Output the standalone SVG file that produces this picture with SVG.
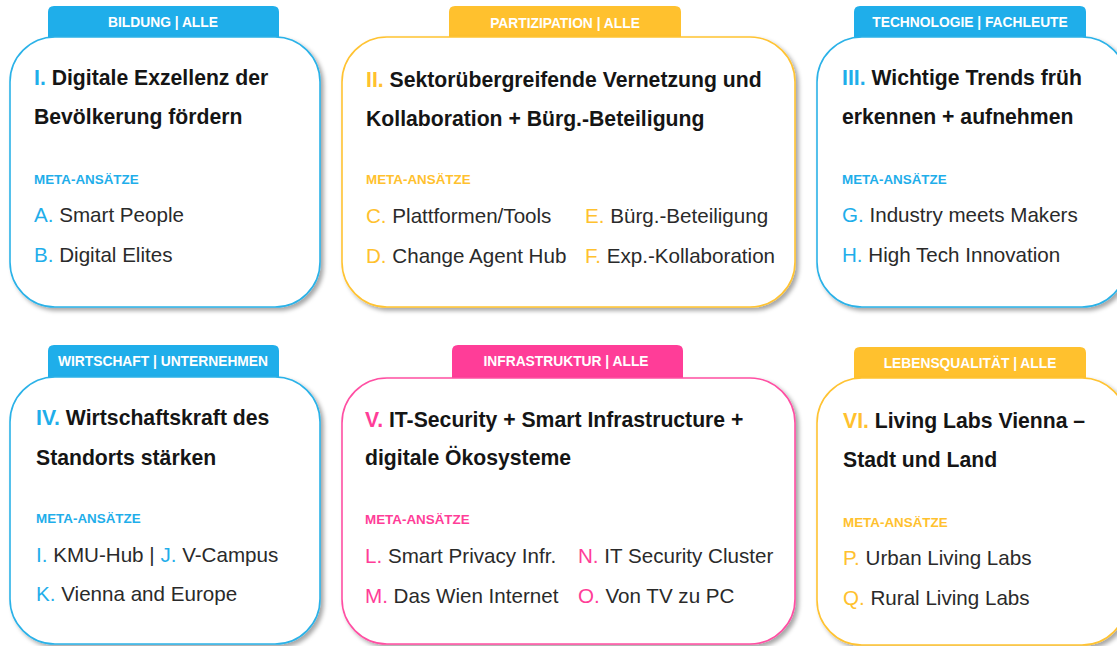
<svg xmlns="http://www.w3.org/2000/svg" width="1117" height="646" viewBox="0 0 1117 646">
<style>
.card{fill:#fff;stroke-width:1.6;filter:url(#sh)}
.b{stroke:#2BB2E8}.y{stroke:#FFC332}.p{stroke:#FF4FA3}
.tb{fill:#1FAEEA}.ty{fill:#FFC12E}.tp{fill:#FF3D98}
.tab{font-family:"Liberation Sans",Arial,sans-serif;font-weight:bold;font-size:13.8px;fill:#fff;text-anchor:middle}
.ti{font-family:"Liberation Sans",Arial,sans-serif;font-weight:bold;font-size:21.2px;fill:#151515}
.me{font-family:"Liberation Sans",Arial,sans-serif;font-weight:bold;font-size:13.4px}
.it{font-family:"Liberation Sans",Arial,sans-serif;font-size:20.6px;fill:#2a2a2a}
.cb{fill:#1FAEEA}.cy{fill:#FFC12E}.cp{fill:#FF3D98}
</style>
<defs>
<filter id="sh" x="-5%" y="-5%" width="115%" height="115%">
<feDropShadow dx="3" dy="3" stdDeviation="2" flood-color="#000" flood-opacity="0.35"/>
</filter>
</defs>
<rect width="1117" height="646" fill="#fff"/>

<g id="node-bildung">
<path class="tb" d="M48,40 L48,12 Q48,6 54,6 L273,6 Q279,6 279,12 L279,40 Z"/>
<rect class="card b" x="10" y="37" width="310" height="270" rx="45"/>
<text class="tab" x="163" y="27">BILDUNG | ALLE</text>
<text class="ti" x="34" y="85"><tspan class="cb">I.</tspan> Digitale Exzellenz der</text>
<text class="ti" x="34" y="124">Bevölkerung fördern</text>
<text class="me cb" x="34" y="184">META-ANSÄTZE</text>
<text class="it" x="34" y="222"><tspan class="cb">A.</tspan> Smart People</text>
<text class="it" x="34" y="262"><tspan class="cb">B.</tspan> Digital Elites</text>
</g>

<g id="node-partizipation">
<path class="ty" d="M449,40 L449,12 Q449,6 455,6 L675,6 Q681,6 681,12 L681,40 Z"/>
<rect class="card y" x="342" y="37" width="453" height="270" rx="45"/>
<text class="tab" x="565" y="28">PARTIZIPATION | ALLE</text>
<text class="ti" x="366" y="87"><tspan class="cy">II.</tspan> Sektorübergreifende Vernetzung und</text>
<text class="ti" x="366" y="126">Kollaboration + Bürg.-Beteiligung</text>
<text class="me cy" x="366" y="184">META-ANSÄTZE</text>
<text class="it" x="366" y="223"><tspan class="cy">C.</tspan> Plattformen/Tools</text>
<text class="it" x="366" y="263"><tspan class="cy">D.</tspan> Change Agent Hub</text>
<text class="it" x="585" y="223"><tspan class="cy">E.</tspan> Bürg.-Beteiligung</text>
<text class="it" x="585" y="263"><tspan class="cy">F.</tspan> Exp.-Kollaboration</text>
</g>

<g id="node-technologie">
<path class="tb" d="M854,40 L854,12 Q854,6 860,6 L1080,6 Q1086,6 1086,12 L1086,40 Z"/>
<rect class="card b" x="817" y="37" width="310" height="270" rx="45"/>
<text class="tab" x="970" y="27">TECHNOLOGIE | FACHLEUTE</text>
<text class="ti" x="842" y="85"><tspan class="cb">III.</tspan> Wichtige Trends früh</text>
<text class="ti" x="842" y="124">erkennen + aufnehmen</text>
<text class="me cb" x="842" y="184">META-ANSÄTZE</text>
<text class="it" x="842" y="222"><tspan class="cb">G.</tspan> Industry meets Makers</text>
<text class="it" x="842" y="262"><tspan class="cb">H.</tspan> High Tech Innovation</text>
</g>

<g id="node-wirtschaft">
<path class="tb" d="M48,380 L48,351 Q48,345 54,345 L273,345 Q279,345 279,351 L279,380 Z"/>
<rect class="card b" x="10" y="377" width="310" height="267" rx="45"/>
<text class="tab" x="163" y="366">WIRTSCHAFT | UNTERNEHMEN</text>
<text class="ti" x="36" y="425"><tspan class="cb">IV.</tspan> Wirtschaftskraft des</text>
<text class="ti" x="36" y="465">Standorts stärken</text>
<text class="me cb" x="36" y="523">META-ANSÄTZE</text>
<text class="it" x="36" y="562"><tspan class="cb">I.</tspan> KMU-Hub | <tspan class="cb">J.</tspan> V-Campus</text>
<text class="it" x="36" y="601"><tspan class="cb">K.</tspan> Vienna and Europe</text>
</g>

<g id="node-infrastruktur">
<path class="tp" d="M452,380 L452,351 Q452,345 458,345 L677,345 Q683,345 683,351 L683,380 Z"/>
<rect class="card p" x="342" y="378" width="453" height="266" rx="45"/>
<text class="tab" x="566" y="366">INFRASTRUKTUR | ALLE</text>
<text class="ti" x="365" y="427"><tspan class="cp">V.</tspan> IT-Security + Smart Infrastructure +</text>
<text class="ti" x="365" y="465">digitale Ökosysteme</text>
<text class="me cp" x="365" y="524">META-ANSÄTZE</text>
<text class="it" x="365" y="563"><tspan class="cp">L.</tspan> Smart Privacy Infr.</text>
<text class="it" x="365" y="603"><tspan class="cp">M.</tspan> Das Wien Internet</text>
<text class="it" x="578" y="563"><tspan class="cp">N.</tspan> IT Security Cluster</text>
<text class="it" x="578" y="603"><tspan class="cp">O.</tspan> Von TV zu PC</text>
</g>

<g id="node-lebensqualitaet">
<path class="ty" d="M854,381 L854,353 Q854,347 860,347 L1080,347 Q1086,347 1086,353 L1086,381 Z"/>
<rect class="card y" x="817" y="378" width="310" height="267" rx="45"/>
<text class="tab" x="970" y="368">LEBENSQUALITÄT | ALLE</text>
<text class="ti" x="843" y="428"><tspan class="cy">VI.</tspan> Living Labs Vienna –</text>
<text class="ti" x="843" y="467">Stadt und Land</text>
<text class="me cy" x="843" y="527">META-ANSÄTZE</text>
<text class="it" x="843" y="565"><tspan class="cy">P.</tspan> Urban Living Labs</text>
<text class="it" x="843" y="605"><tspan class="cy">Q.</tspan> Rural Living Labs</text>
</g>

<g id="connectors"></g>
</svg>
